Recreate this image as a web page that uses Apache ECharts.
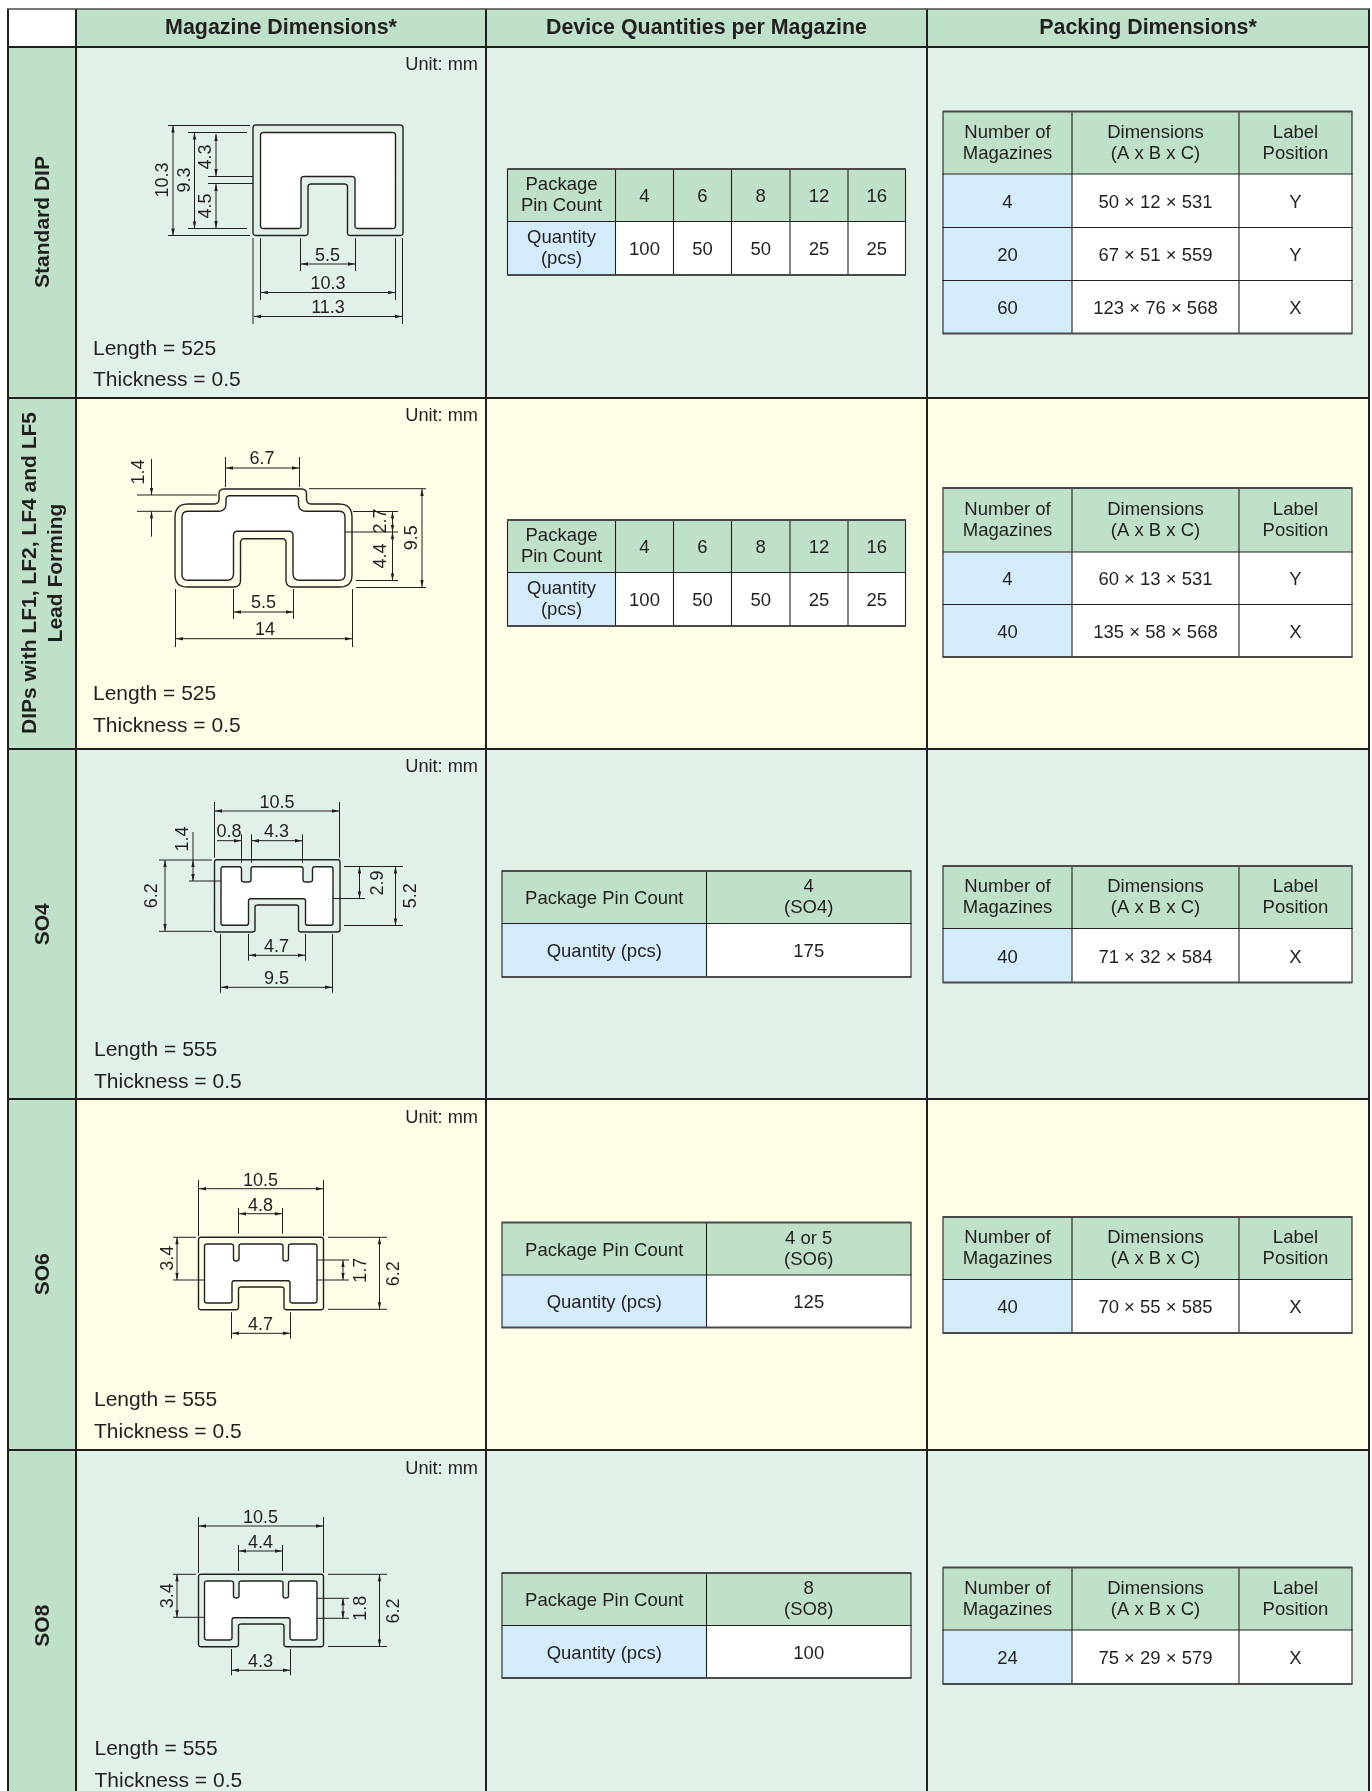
<!DOCTYPE html>
<html>
<head>
<meta charset="utf-8">
<title>Magazine and packing dimensions</title>
<script src="https://cdn.jsdelivr.net/npm/echarts@6/dist/echarts.min.js"></script>
<style>
  html, body { margin: 0; padding: 0; background: #fff; }
  #main { width: 1372px; height: 1791px; }
</style>
</head>
<body>
<div id="main"></div>
<script>
// table content
const columnTitles = ['Magazine Dimensions*', 'Device Quantities per Magazine', 'Packing Dimensions*'];
const packageNames = ['Standard DIP', 'DIPs with LF1, LF2, LF4 and LF5\nLead Forming', 'SO4', 'SO6', 'SO8'];
const magazineLengths = [525, 525, 555, 555, 555];
const magazineThickness = [0.5, 0.5, 0.5, 0.5, 0.5];
const unitLabel = 'Unit: mm';

const dipPinCounts = ['4', '6', '8', '12', '16'];
const dipQuantities = ['100', '50', '50', '25', '25'];
const soPinCounts = ['4\n(SO4)', '4 or 5\n(SO6)', '8\n(SO8)'];
const soQuantities = ['175', '125', '100'];

const packingHeaders = ['Number of\nMagazines', 'Dimensions\n(A x B x C)', 'Label\nPosition'];
const magazineCounts = [['4', '20', '60'], ['4', '40'], ['40'], ['40'], ['24']];
const packingSizes = [
  ['50 × 12 × 531', '67 × 51 × 559', '123 × 76 × 568'],
  ['60 × 13 × 531', '135 × 58 × 568'],
  ['71 × 32 × 584'],
  ['70 × 55 × 585'],
  ['75 × 29 × 579']
];
const labelPositions = [['Y', 'Y', 'X'], ['Y', 'X'], ['X'], ['X'], ['X']];

// numbers written on the drawings
const dipDimLabels = ['10.3', '9.3', '4.3', '4.5', '5.5', '10.3', '11.3'];
const formedDimLabels = ['6.7', '1.4', '9.5', '2.7', '4.4', '5.5', '14'];
const so4DimLabels = ['10.5', '0.8', '4.3', '1.4', '6.2', '2.9', '5.2', '4.7', '9.5'];
const so6DimLabels = ['10.5', '4.8', '3.4', '1.7', '6.2', '4.7'];
const so8DimLabels = ['10.5', '4.4', '3.4', '1.8', '6.2', '4.3'];

// colours
const INK = '#231f20';
const HEAD_GREEN = '#bfe1c9';
const PALE_GREEN = '#e1f1e7';
const PALE_YELLOW = '#fffce8';
const PALE_BLUE = '#d4ecf9';
const FONT = '"Liberation Sans", Arial, sans-serif';

// layout
const colX = [8, 76, 486, 927, 1369];
const rowY = [9, 47, 398, 749, 1099, 1450, 1791];
const rowFill = [PALE_GREEN, PALE_YELLOW, PALE_GREEN, PALE_YELLOW, PALE_GREEN];
const unitY = [63.5, 414.7, 765.7, 1116.7, 1467.7];
const lengthPos = [[93, 348], [93, 693.7], [94, 1049.7], [94, 1399.7], [94.5, 1748.7]];
const thickY = [379.5, 725.3, 1081.3, 1431.3, 1780.3];
const sideY = [222, 573, 924.3, 1274.3, 1625.7];
const dipColsX = [507.5, 615.5, 673.5, 731.5, 790, 848, 905.5];
const soColsX = [502, 706.5, 911];
const packColsX = [943, 1072, 1239, 1352];
const quantityRowsY = [[169, 221.5, 275], [520, 572.5, 626], [871, 923.5, 977], [1222.5, 1275, 1327.5], [1573, 1625.5, 1678]];
const packingRowsY = [
  [111.5, 174, 227.5, 280.5, 333.5],
  [488, 552, 604.5, 657],
  [866, 928.5, 982.5],
  [1217, 1279.5, 1333],
  [1567.5, 1630, 1684]
];

// the so6 and so8 magazines have the same profile, only moved down
function soWideProfile(dy) {
  return {
    outer: [[198.5, 1237.3 + dy], [323.5, 1237.3 + dy], [323.5, 1309.7 + dy], [284, 1309.7 + dy], [284, 1287 + dy], [238.5, 1287 + dy], [238.5, 1309.7 + dy], [198.5, 1309.7 + dy]],
    inner: [[204.5, 1244 + dy], [233.5, 1244 + dy], [233.5, 1261 + dy], [239, 1261 + dy], [239, 1244 + dy], [283, 1244 + dy], [283, 1261 + dy], [288.5, 1261 + dy], [288.5, 1244 + dy], [317, 1244 + dy], [317, 1303 + dy], [290, 1303 + dy], [290, 1280.7 + dy], [232, 1280.7 + dy], [232, 1303 + dy], [204.5, 1303 + dy]]
  };
}

// outer/inner: profile corners [x, y, radius]. ext: plain lines. dims: lines [x1,y1,x2,y2, arrowAtStart, arrowAtEnd].
// labels: [x, y, rotated], same order as the *DimLabels arrays
const drawings = [
  {
    texts: dipDimLabels,
    outer: [[253, 125], [403, 125], [403, 235.5], [347.5, 235.5], [347.5, 184], [308, 184], [308, 235.5], [253, 235.5]],
    inner: [[260.5, 132.5], [395.5, 132.5], [395.5, 228.5], [355, 228.5], [355, 176.5], [301, 176.5], [301, 228.5], [260.5, 228.5]],
    radius: 3,
    ext: [[168, 125.5, 250, 125.5], [168, 235.5, 250, 235.5], [188, 132.5, 247, 132.5], [188, 228.5, 247, 228.5],
      [208, 176.5, 253, 176.5], [208, 183.5, 253, 183.5],
      [253, 238, 253, 324], [402.5, 238, 402.5, 324], [260.5, 238, 260.5, 300], [395.5, 238, 395.5, 300],
      [300.5, 238, 300.5, 271], [355.5, 238, 355.5, 271]],
    dims: [[173, 125.5, 173, 235.5, 1, 1], [194.5, 132.5, 194.5, 228.5, 1, 1], [216, 134, 216, 176, 1, 1], [216, 184, 216, 228, 1, 1],
      [301, 264, 355, 264, 1, 1], [261, 292.5, 395, 292.5, 1, 1], [254, 316.5, 402, 316.5, 1, 1]],
    labels: [[162, 180, 1], [184, 180, 1], [205, 157, 1], [205, 206, 1], [327.5, 255, 0], [328, 283, 0], [328, 307, 0]]
  },
  {
    texts: formedDimLabels,
    outer: [[175, 504, 13], [219, 504, 5], [219, 489, 5], [306.5, 489, 5], [306.5, 504, 5], [352, 504, 13], [352, 587, 12], [286, 587, 7], [286, 538.7, 4], [240.5, 538.7, 4], [240.5, 587, 7], [175, 587, 12]],
    inner: [[182, 511.3, 6], [226, 511.3, 8], [226, 495.7, 4], [298.5, 495.7, 4], [298.5, 511.3, 8], [345, 511.3, 6], [345, 580.3, 6], [293, 580.3, 7], [293, 531.3, 4], [233.5, 531.3, 4], [233.5, 580.3, 7], [182, 580.3, 6]],
    ext: [[225.5, 457, 225.5, 487], [299.5, 457, 299.5, 487], [137, 495, 217, 495], [137, 511.3, 172, 511.3],
      [309, 488.7, 426, 488.7], [353, 511.5, 398, 511.5], [297, 532, 398, 532], [356, 580.5, 398, 580.5], [356, 587.5, 426, 587.5],
      [233.5, 589, 233.5, 619], [293.5, 589, 293.5, 619], [175.5, 589, 175.5, 647], [352.5, 589, 352.5, 647]],
    dims: [[226, 468, 299, 468, 1, 1], [151.5, 459, 151.5, 495, 0, 1], [151.5, 536.7, 151.5, 511.3, 0, 1],
      [422, 489, 422, 587, 1, 1], [392.5, 511.5, 392.5, 532, 1, 1], [392.5, 532, 392.5, 580.5, 1, 1],
      [234, 612, 293, 612, 1, 1], [176, 638.7, 352, 638.7, 1, 1]],
    labels: [[262, 458.5, 0], [138, 472, 1], [411, 537.7, 1], [379.5, 521, 1], [380, 556, 1], [263.5, 601.7, 0], [265, 629, 0]]
  },
  {
    texts: so4DimLabels,
    outer: [[214.5, 859.7], [340, 859.7], [340, 932], [298.5, 932], [298.5, 905], [255, 905], [255, 932], [214.5, 932]],
    inner: [[221, 866.7], [241.5, 866.7], [241.5, 882], [251, 882], [251, 866.7], [303, 866.7], [303, 882], [312.5, 882], [312.5, 866.7], [333, 866.7], [333, 925.3], [305.5, 925.3], [305.5, 898.7], [248.5, 898.7], [248.5, 925.3], [221, 925.3]],
    ext: [[214.5, 802, 214.5, 857.7], [339.5, 802, 339.5, 857.7], [241.5, 834.3, 241.5, 862.7], [251.5, 834.3, 251.5, 862.7], [302.5, 834.3, 302.5, 862.7],
      [159, 860, 212, 860], [189, 881, 241, 881], [159, 931.3, 212, 931.3], [193, 832, 193, 860],
      [344, 866.5, 403, 866.5], [344, 925.5, 403, 925.5], [306, 898.5, 365, 898.5],
      [248.5, 934, 248.5, 960.7], [305.5, 934, 305.5, 960.7], [220.5, 934, 220.5, 992.7], [332.5, 934, 332.5, 992.7]],
    dims: [[215, 811, 339, 811, 1, 1], [217, 840.7, 241, 840.7, 0, 1], [252, 840.7, 302, 840.7, 1, 1], [193, 860, 193, 881, 1, 1],
      [165, 860, 165, 931, 1, 1], [359.5, 866.5, 359.5, 898.5, 1, 1], [395.5, 866.5, 395.5, 925.5, 1, 1],
      [249, 955.3, 305, 955.3, 1, 1], [221, 987.3, 332, 987.3, 1, 1]],
    labels: [[277, 802, 0], [229, 831, 0], [276.5, 831, 0], [182, 839, 1], [151, 895.7, 1], [377, 883, 1], [409.5, 895.7, 1], [276.5, 946.3, 0], [276.5, 977.7, 0]]
  },
  {
    texts: so6DimLabels,
    ...soWideProfile(0),
    ext: [[198.5, 1180, 198.5, 1236.3], [323.5, 1180, 323.5, 1236.3], [238.5, 1208, 238.5, 1233.7], [282.5, 1208, 282.5, 1233.7],
      [173, 1237.3, 196, 1237.3], [173, 1280, 230, 1280], [328, 1237.3, 387, 1237.3], [328, 1309.3, 387, 1309.3],
      [302, 1260, 349, 1260], [302, 1280, 349, 1280], [231.5, 1312.3, 231.5, 1338.7], [290.5, 1312.3, 290.5, 1338.7]],
    dims: [[199, 1188.7, 323, 1188.7, 1, 1], [239, 1213.7, 282, 1213.7, 1, 1], [177, 1237.3, 177, 1280, 1, 1],
      [343, 1260, 343, 1280, 1, 1], [379.5, 1237.3, 379.5, 1309.3, 1, 1], [232, 1333.3, 290, 1333.3, 1, 1]],
    labels: [[260.5, 1179.7, 0], [260.5, 1204.7, 0], [166.5, 1258.3, 1], [360, 1270.3, 1], [392.5, 1273.7, 1], [260.5, 1323.7, 0]]
  },
  {
    texts: so8DimLabels,
    ...soWideProfile(337),
    ext: [[198.5, 1517, 198.5, 1573], [323.5, 1517, 323.5, 1573], [238.5, 1545, 238.5, 1571], [282.5, 1545, 282.5, 1571],
      [173, 1574.3, 196, 1574.3], [173, 1617.3, 230, 1617.3], [328, 1574.3, 387, 1574.3], [328, 1646.5, 387, 1646.5],
      [302, 1598.3, 349, 1598.3], [302, 1618.3, 349, 1618.3], [231.5, 1649, 231.5, 1675.3], [290.5, 1649, 290.5, 1675.3]],
    dims: [[199, 1526, 323, 1526, 1, 1], [239, 1551, 282, 1551, 1, 1], [177, 1574.3, 177, 1617.3, 1, 1],
      [343, 1598.3, 343, 1618.3, 1, 1], [379.5, 1574.3, 379.5, 1646.5, 1, 1], [232, 1670.3, 290, 1670.3, 1, 1]],
    labels: [[260.5, 1516.7, 0], [260.5, 1541.7, 0], [166.5, 1595.7, 1], [360, 1608.3, 1], [392.5, 1611, 1], [260.5, 1660.7, 0]]
  }
];

// everything that gets drawn goes in this list, then one custom series renders it
var marks = [];

function addRect(x1, y1, x2, y2, fill) { marks.push({ kind: 'rect', x1: x1, y1: y1, x2: x2, y2: y2, fill: fill }); }
function addLine(x1, y1, x2, y2, width, color) { marks.push({ kind: 'line', pts: [[x1, y1], [x2, y2]], width: width, color: color || INK }); }
function addText(text, x, y, size, opt) {
  opt = opt || {};
  var lines = String(text).split('\n');
  var pitch = opt.pitch || 21;
  lines.forEach(function (t, i) {
    var off = (i - (lines.length - 1) / 2) * pitch;
    // middle alignment sits a bit high in this font
    marks.push({
      kind: 'text', text: t, size: size, bold: opt.bold, align: opt.align || 'center', rotated: opt.rotated,
      x: opt.rotated ? x + off + 1.5 : x, y: opt.rotated ? y : y + off + 1
    });
  });
}

// corners -> polygon points with rounded corners
function roundCorners(corners, defaultRadius) {
  var out = [];
  var n = corners.length;
  corners.forEach(function (c, i) {
    var a = corners[(i + n - 1) % n], b = corners[(i + 1) % n];
    var la = Math.hypot(a[0] - c[0], a[1] - c[1]), lb = Math.hypot(b[0] - c[0], b[1] - c[1]);
    var r = Math.min(c[2] === undefined ? defaultRadius : c[2], la / 2, lb / 2);
    var p0 = [c[0] + (a[0] - c[0]) * r / la, c[1] + (a[1] - c[1]) * r / la];
    var p1 = [c[0] + (b[0] - c[0]) * r / lb, c[1] + (b[1] - c[1]) * r / lb];
    for (var s = 0; s <= 6; s++) {
      var t = s / 6, u = 1 - t;
      out.push([u * u * p0[0] + 2 * u * t * c[0] + t * t * p1[0], u * u * p0[1] + 2 * u * t * c[1] + t * t * p1[1]]);
    }
  });
  return out;
}

function addArrowHead(x, y, fromX, fromY) {
  var len = Math.hypot(x - fromX, y - fromY) || 1;
  var dx = (x - fromX) / len, dy = (y - fromY) / len;
  var h = 7, w = 1.7;
  marks.push({ kind: 'poly', fill: INK, color: null, pts: [[x, y], [x - dx * h - dy * w, y - dy * h + dx * w], [x - dx * h + dy * w, y - dy * h - dx * w]] });
}

function addInnerTable(colsX, rowsY, cellText, cellFill) {
  for (var r = 0; r < rowsY.length - 1; r++) {
    for (var c = 0; c < colsX.length - 1; c++) {
      var txt = String(cellText(r, c));
      var nudge = txt.indexOf('\n') >= 0 ? -0.5 : 1;
      addRect(colsX[c], rowsY[r], colsX[c + 1], rowsY[r + 1], cellFill(r, c));
      addText(txt, (colsX[c] + colsX[c + 1]) / 2, (rowsY[r] + rowsY[r + 1]) / 2 + nudge, 18.5);
    }
  }
  colsX.forEach(function (x) {
    addLine(x, rowsY[0], x, rowsY[rowsY.length - 1], 1.1);
  });
  rowsY.forEach(function (y, i) {
    var edge = i === 0 || i === rowsY.length - 1;
    addLine(colsX[0] - 0.5, y, colsX[colsX.length - 1] + 0.5, y, edge ? 1.8 : 1.1, edge ? '#4a4a4a' : INK);
  });
}

// big table backgrounds
addRect(0, 0, 1372, 1791, '#ffffff');
addRect(colX[1], rowY[0], colX[4], rowY[1], HEAD_GREEN);
for (var i = 0; i < 5; i++) {
  addRect(colX[0], rowY[i + 1], colX[1], rowY[i + 2], HEAD_GREEN);
  addRect(colX[1], rowY[i + 1], colX[4], rowY[i + 2], rowFill[i]);
}

// header titles and row content
columnTitles.forEach(function (t, i) {
  addText(t, (colX[i + 1] + colX[i + 2]) / 2, 27.5, 21.4, { bold: true });
});

packageNames.forEach(function (name, i) {
  addText(name, 41.5, sideY[i], 21, { bold: true, rotated: true, pitch: 26 });
  addText(unitLabel, 478, unitY[i], 18.2, { align: 'right' });
  addText('Length = ' + magazineLengths[i], lengthPos[i][0], lengthPos[i][1], 21, { align: 'left' });
  addText('Thickness = ' + magazineThickness[i], lengthPos[i][0], thickY[i], 21, { align: 'left' });

  var d = drawings[i];
  d.ext.forEach(function (e) { addLine(e[0], e[1], e[2], e[3], 1); });
  d.dims.forEach(function (e) {
    addLine(e[0], e[1], e[2], e[3], 1);
    if (e[4]) addArrowHead(e[0], e[1], e[2], e[3]);
    if (e[5]) addArrowHead(e[2], e[3], e[0], e[1]);
  });
  marks.push({ kind: 'poly', pts: roundCorners(d.outer, d.radius || 2.5), fill: null, color: INK, width: 1.4 });
  marks.push({ kind: 'poly', pts: roundCorners(d.inner, d.radius || 2.5), fill: '#ffffff', color: INK, width: 1.4 });
  d.labels.forEach(function (l, k) {
    addText(d.texts[k], l[0], l[1], 18, { rotated: !!l[2] });
  });

  // quantity table
  if (i < 2) {
    addInnerTable(dipColsX, quantityRowsY[i], function (r, c) {
      if (c === 0) return r === 0 ? 'Package\nPin Count' : 'Quantity\n(pcs)';
      return r === 0 ? dipPinCounts[c - 1] : dipQuantities[c - 1];
    }, function (r, c) { return r === 0 ? HEAD_GREEN : c === 0 ? PALE_BLUE : '#ffffff'; });
  } else {
    addInnerTable(soColsX, quantityRowsY[i], function (r, c) {
      if (c === 0) return r === 0 ? 'Package Pin Count' : 'Quantity (pcs)';
      return r === 0 ? soPinCounts[i - 2] : soQuantities[i - 2];
    }, function (r, c) { return r === 0 ? HEAD_GREEN : c === 0 ? PALE_BLUE : '#ffffff'; });
  }

  // packing table
  addInnerTable(packColsX, packingRowsY[i], function (r, c) {
    if (r === 0) return packingHeaders[c];
    return [magazineCounts, packingSizes, labelPositions][c][i][r - 1];
  }, function (r, c) { return r === 0 ? HEAD_GREEN : c === 0 ? PALE_BLUE : '#ffffff'; });
});

// grid lines of the big table
colX.forEach(function (x) { addLine(x, rowY[0], x, 1791, 2); });
rowY.slice(0, 6).forEach(function (y, i) { addLine(colX[0] - 1, y, colX[4] + 1, y, i === 0 ? 1.6 : 2, i === 0 ? '#4a4a4a' : INK); });

function renderMark(params, api) {
  var m = marks[api.value(0)];
  if (m.kind === 'rect') {
    var a = api.coord([m.x1, m.y1]), b = api.coord([m.x2, m.y2]);
    return { type: 'rect', shape: { x: a[0], y: a[1], width: b[0] - a[0], height: b[1] - a[1] }, style: { fill: m.fill } };
  }
  if (m.kind === 'line') {
    return { type: 'polyline', shape: { points: m.pts.map(function (p) { return api.coord(p); }) }, style: { stroke: m.color, lineWidth: m.width, fill: null } };
  }
  if (m.kind === 'poly') {
    return {
      type: 'polygon',
      shape: { points: m.pts.map(function (p) { return api.coord(p); }) },
      style: { fill: m.fill || 'none', stroke: m.color || null, lineWidth: m.width || 0 }
    };
  }
  var c = api.coord([m.x, m.y]);
  return {
    type: 'text', x: c[0], y: c[1], rotation: m.rotated ? Math.PI / 2 : 0,
    style: {
      text: m.text, fill: INK, align: m.align, verticalAlign: 'middle',
      font: (m.bold ? 'bold ' : '') + m.size + 'px ' + FONT
    }
  };
}

var chart = echarts.init(document.getElementById('main'));
chart.setOption({
  animation: false,
  grid: { left: 0, right: 0, top: 0, bottom: 0 },
  xAxis: { type: 'value', min: 0, max: 1372, show: false },
  yAxis: { type: 'value', min: 0, max: 1791, inverse: true, show: false },
  series: [{
    type: 'custom',
    coordinateSystem: 'cartesian2d',
    silent: true,
    clip: false,
    progressive: 0,
    encode: { x: 0, y: 0 },
    renderItem: renderMark,
    data: marks.map(function (m, idx) { return [idx]; })
  }]
});
</script>
</body>
</html>
